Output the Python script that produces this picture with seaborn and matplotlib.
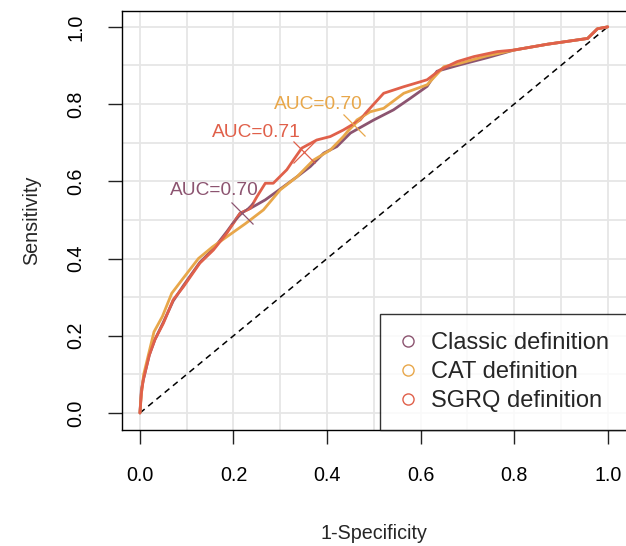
import numpy as np
import pandas as pd
import seaborn as sns
import matplotlib
matplotlib.use("Agg")
import matplotlib.pyplot as plt
from matplotlib.lines import Line2D

# ROC curve knots (1-Specificity, Sensitivity)
classic_fpr = [0, 0.003, 0.008, 0.02, 0.032, 0.05, 0.071, 0.093, 0.128, 0.157, 0.186, 0.214,
               0.236, 0.268, 0.30, 0.336, 0.364, 0.393, 0.421, 0.45, 0.50, 0.542, 0.578,
               0.614, 0.635, 0.685, 0.742, 0.80, 0.871, 0.957, 0.978, 1.0]
classic_tpr = [0, 0.06, 0.09, 0.15, 0.19, 0.235, 0.29, 0.33, 0.39, 0.425, 0.47, 0.517,
               0.53, 0.552, 0.58, 0.612, 0.638, 0.673, 0.69, 0.725, 0.759, 0.785, 0.815,
               0.846, 0.885, 0.902, 0.92, 0.94, 0.955, 0.97, 0.995, 1.0]

cat_fpr = [0, 0.003, 0.008, 0.02, 0.03, 0.048, 0.068, 0.09, 0.125, 0.155, 0.19, 0.225,
           0.236, 0.264, 0.30, 0.336, 0.371, 0.407, 0.435, 0.464, 0.492, 0.521, 0.564,
           0.614, 0.65, 0.685, 0.742, 0.80, 0.871, 0.957, 0.978, 1.0]
cat_tpr = [0, 0.05, 0.1, 0.16, 0.21, 0.25, 0.31, 0.345, 0.40, 0.43, 0.46, 0.49,
           0.50, 0.526, 0.578, 0.612, 0.655, 0.681, 0.716, 0.759, 0.78, 0.789, 0.828,
           0.85, 0.897, 0.906, 0.925, 0.94, 0.955, 0.97, 0.995, 1.0]

sgrq_fpr = [0, 0.003, 0.007, 0.02, 0.032, 0.05, 0.071, 0.093, 0.128, 0.157, 0.186, 0.214,
            0.236, 0.25, 0.268, 0.285, 0.314, 0.328, 0.346, 0.378, 0.407, 0.435, 0.471,
            0.482, 0.50, 0.521, 0.564, 0.614, 0.642, 0.678, 0.714, 0.764, 0.80, 0.871,
            0.957, 0.978, 1.0]
sgrq_tpr = [0, 0.05, 0.085, 0.15, 0.19, 0.232, 0.293, 0.327, 0.388, 0.422, 0.466, 0.517,
            0.53, 0.56, 0.595, 0.595, 0.63, 0.655, 0.686, 0.707, 0.716, 0.733, 0.759,
            0.776, 0.80, 0.828, 0.845, 0.863, 0.889, 0.91, 0.923, 0.936, 0.94, 0.955,
            0.97, 0.995, 1.0]

labels = ["Classic definition", "CAT definition", "SGRQ definition"]
colors = ["#8C5470", "#E8A74A", "#E0604A"]
auc_text = ["AUC=0.70", "AUC=0.70", "AUC=0.71"]
auc_pos = [(0.159, 0.576), (0.381, 0.798), (0.248, 0.727)]
best_pt = [(0.218, 0.518), (0.457, 0.746), (0.35, 0.677)]

df = pd.concat([
    pd.DataFrame({"fpr": classic_fpr, "tpr": classic_tpr, "def": labels[0]}),
    pd.DataFrame({"fpr": cat_fpr, "tpr": cat_tpr, "def": labels[1]}),
    pd.DataFrame({"fpr": sgrq_fpr, "tpr": sgrq_tpr, "def": labels[2]}),
])

sns.set_style("white")
plt.rcParams['font.family'] = ['Liberation Sans', 'DejaVu Sans']

fig = plt.figure(figsize=(6.26, 5.46), dpi=100)
ax = fig.add_axes([0.1944, 0.2125, 0.807, 0.768])

# grid every 0.1
for v in np.arange(0, 1.01, 0.1):
    ax.axvline(v, color="#E6E6E6", lw=1.3, zorder=0)
    ax.axhline(v, color="#E6E6E6", lw=1.3, zorder=0)

ax.plot([0, 1], [0, 1], ls=(0, (4, 3)), color="black", lw=1.1, zorder=1)

sns.lineplot(data=df, x="fpr", y="tpr", hue="def", palette=colors, sort=False,
             estimator=None, lw=2.0, ax=ax, legend=False, zorder=2)

for t, p, b, c in zip(auc_text, auc_pos, best_pt, colors):
    ax.plot(b[0], b[1], marker="x", ms=16, mew=0.9, color=c, zorder=3)
    ax.text(p[0], p[1], t, color=c, ha="center", va="center", fontsize=13.8)

ax.set_xlim(-0.039, 1.041)
ax.set_ylim(-0.044, 1.042)
ax.set_xticks(np.arange(0, 1.01, 0.2))
ax.set_yticks(np.arange(0, 1.01, 0.2))
ax.set_xticklabels(["0.0", "0.2", "0.4", "0.6", "0.8", "1.0"])
ax.set_yticklabels(["0.0", "0.2", "0.4", "0.6", "0.8", "1.0"], rotation=90, va="center")
ax.tick_params(axis="both", direction="out", length=10, width=1, labelsize=14.2,
               pad=16, bottom=True, left=True, colors="#222222", labelcolor="black")
ax.set_xlabel("1-Specificity", fontsize=14.2, labelpad=28)
ax.set_ylabel("Sensitivity", fontsize=14.2, labelpad=18)

for s in ax.spines.values():
    s.set_color("black")
    s.set_linewidth(1.0)

handles = [Line2D([], [], marker="o", ls="", mfc="none", mec=c, ms=8, mew=1.0) for c in colors]
leg = ax.legend(handles, labels, loc="lower right", borderaxespad=0, fontsize=17,
                frameon=True, fancybox=False, handletextpad=0.6, labelspacing=0.3,
                borderpad=0.75, handlelength=0.8)
leg.get_frame().set_edgecolor("black")
leg.get_frame().set_linewidth(1.0)

plt.savefig("out.png", dpi=100)
